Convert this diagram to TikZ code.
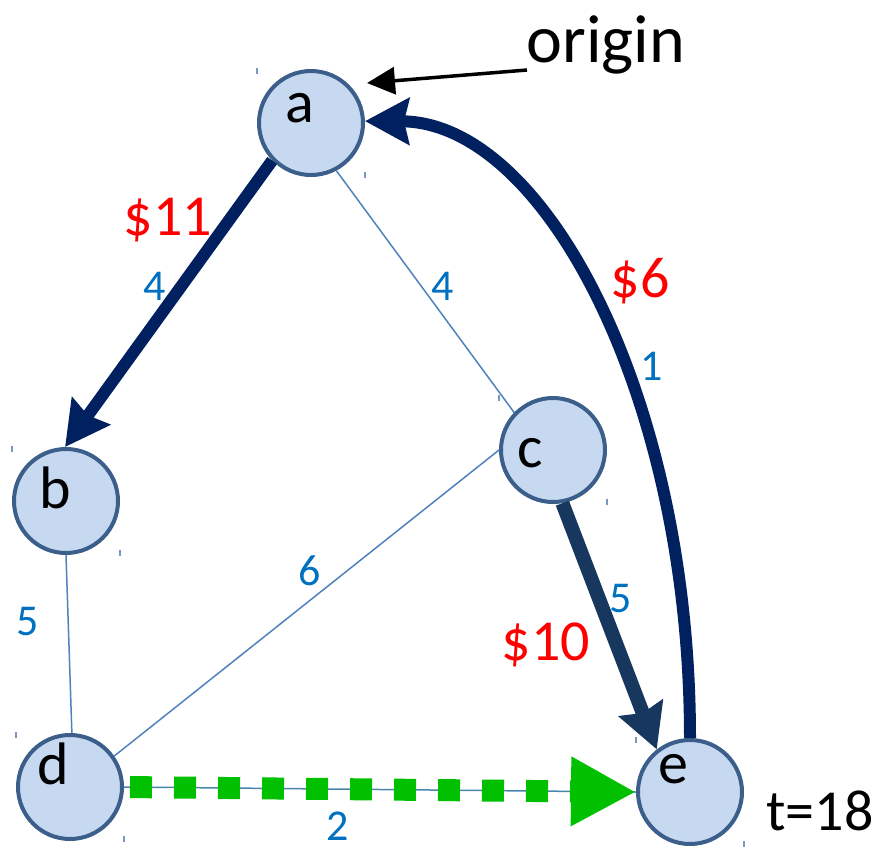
\documentclass[tikz,border=0pt]{standalone}
\usepackage{fontspec}
\setmainfont{Carlito}
\usetikzlibrary{arrows.meta}
\definecolor{nodefill}{RGB}{198,217,240}
\definecolor{nodeline}{RGB}{59,94,138}
\definecolor{thinblue}{RGB}{79,129,189}
\definecolor{navy}{RGB}{0,32,96}
\definecolor{navytwo}{RGB}{23,55,94}
\definecolor{wblue}{RGB}{0,112,192}
\definecolor{grn}{RGB}{0,192,0}
\definecolor{tickc}{RGB}{120,150,190}
\begin{document}
\begin{tikzpicture}[x=1pt,y=-1pt,
  vertex/.style={circle,draw=nodeline,fill=nodefill,line width=4pt,minimum size=104pt,inner sep=0pt},
  vlabel/.style={anchor=base,font=\fontsize{60}{60}\selectfont,inner sep=0pt},
  weight/.style={anchor=base,font=\fontsize{44}{44}\selectfont,text=wblue,inner sep=0pt},
  cost/.style={anchor=base,font=\fontsize{58}{58}\selectfont,text=red,inner sep=0pt},
  thinedge/.style={draw=thinblue,line width=1.5pt},
  heavy/.style={draw=navy,line width=12pt,-{Stealth[length=44pt,width=46pt,inset=5pt]}},
  ticks/.style={draw=tickc,line width=1.2pt},
]
\useasboundingbox (0,0) rectangle (876,849);
% vertices
\node[vertex] (a) at (311,123) {};
\node[vertex] (b) at (66,501) {};
\node[vertex] (c) at (553,450) {};
\node[vertex] (d) at (70,787) {};
\node[vertex] (e) at (690,792) {};
% corner ticks
\foreach \n in {a,b,c,d,e}{
  \draw[ticks] ([shift={(-54,-55)}]\n.center) -- ++(0,6);
  \draw[ticks] ([shift={(54,49)}]\n.center) -- ++(0,6);
}
% thin edges
\draw[thinedge] (a.-62) -- (c.136);
\draw[thinedge] (b.-90) -- (d.88);
\draw[thinedge] (c.180) -- (d.35);
\draw[thinedge] (d.0) -- (e.180);
% green dotted
\draw[draw=grn,fill=grn,line width=22pt,dash pattern=on 22pt off 22pt,shorten <=6pt,
  -{Triangle[length=65pt,width=65pt]}] (d.0) -- (e.180);
% heavy arrows
\draw[heavy] (a.-136) -- (b.91);
\draw[heavy] (e.90) .. controls (690,398) and (545,122) .. (a.2);
\draw[heavy,draw=navytwo,line width=14pt] (c.-80) -- (e.128);
% labels in vertices
\node[vlabel] (la) at (300,122) {a};
\node[vlabel] (lb) at (55,508) {b};
\node[vlabel] (lc) at (530,467) {c};
\node[vlabel] (ld) at (53,784) {d};
\node[vlabel] (le) at (673,783) {e};
\node[anchor=base,font=\fontsize{58}{58}\selectfont,inner sep=0pt] (t) at (820,830) {t=18};
% weights
\node[weight] (wab) at (155,300) {4};
\node[weight] (wac) at (443,300) {4};
\node[weight] (wea) at (652,380) {1};
\node[weight] (wce) at (621,612) {5};
\node[weight] (wcd) at (310,585) {6};
\node[weight] (wbd) at (28,635) {5};
\node[weight] (wde) at (338,840) {2};
% costs
\node[cost] (cab) at (168,235) {\$11};
\node[cost] (cea) at (640,297) {\$6};
\node[cost] (cce) at (546,660) {\$10};
% origin
\node[anchor=base,font=\fontsize{68}{68}\selectfont,inner sep=0pt] (orig) at (606,62) {origin};
\coordinate (ostart) at (527,70);
\coordinate (otip) at (367,83);
\draw[line width=3.5pt,-{Triangle[length=28pt,width=27pt]}] (ostart) -- (otip);
\end{tikzpicture}
\end{document}
